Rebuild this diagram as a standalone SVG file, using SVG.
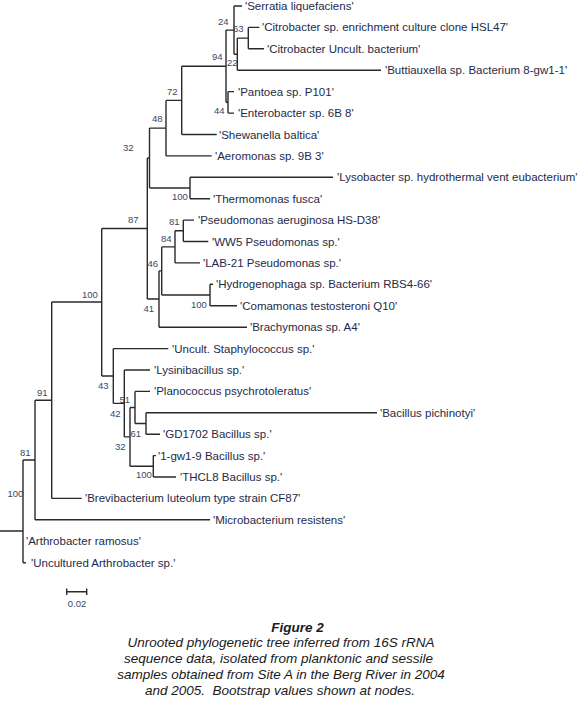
<svg xmlns="http://www.w3.org/2000/svg" width="580" height="705" viewBox="0 0 580 705">
<style>
.br{fill:none;stroke:#2a2a2a;stroke-width:1.4}
.lf{font-family:"Liberation Sans",Arial,sans-serif;font-size:11.5px;fill:#1e2b48}
.bs{font-family:"Liberation Sans",Arial,sans-serif;font-size:9.5px;fill:#3a4866}
.cap{font-family:"Liberation Sans",Arial,sans-serif;font-size:13.5px;font-style:italic;fill:#1a1a1a;text-anchor:middle}
</style>
<rect width="580" height="705" fill="#fff"/>
<g id="connectors" class="br">
<path d="M0 531H23M23 460V562.7M23 562.7H26M23 460H35M35 400.2V519.8M35 519.8H210M35 400.2H51.7M51.7 302V498.4M51.7 498.4H81.7M51.7 302H101.7M101.7 228.5V376"/>
<path d="M101.7 228.5H147.3M147.3 158V299M147.3 158H149.5M149.5 128.1V188M149.5 128.1H166M166 100.4V155.9M166 155.9H211.7M166 100.4H181.7M181.7 66.2V134.5M181.7 134.5H216.7M181.7 66.2H226M226 30.1V102.3M226 102.3H228M228 91.6V113.1M228 91.6H234M228 113.1H234M226 30.1H234M234 6V54.2M234 6H242M234 54.2H237.3M237.3 38.1V70.2M237.3 70.2H381M237.3 38.1H248.3M248.3 27.4V48.8M248.3 27.4H259.3M248.3 48.8H264"/>
<path d="M149.5 188H190M190 177.3V198.7M190 177.3H333M190 198.7H210"/>
<path d="M147.3 299H159M159 270.9V327.2M159 327.2H247M159 270.9H161.7M161.7 246.9V295M161.7 246.9H175M175 230.8V262.9M175 262.9H200M175 230.8H183.3M183.3 220.1V241.5M183.3 220.1H194M183.3 241.5H208.3M161.7 295H210M210 284.3V305.7M210 284.3H213M210 305.7H237"/>
<path d="M101.7 376H113.3M113.3 348.6V403.4M113.3 348.6H168.3M113.3 403.4H124.3M124.3 370V436.9M124.3 370H150M124.3 436.9H130M130 407.5V466.3M130 407.5H135M135 391.4V423.5M135 391.4H150M135 423.5H146M146 412.8V434.2M146 412.8H377M146 434.2H160M130 466.3H153.3M153.3 455.6V477M153.3 455.6H156M153.3 477H176"/>
<path d="M66.7 591.7H86.7M66.7 588.5V595M86.7 588.5V595"/>
</g>
<g id="leaf-serratia"><text class="lf" x="245" y="10">'Serratia liquefaciens'</text></g>
<g id="leaf-citrobacter-enrich"><text class="lf" x="262" y="31.4">'Citrobacter sp. enrichment culture clone HSL47'</text></g>
<g id="leaf-citrobacter-uncult"><text class="lf" x="267" y="52.8">'Citrobacter Uncult. bacterium'</text></g>
<g id="leaf-buttiauxella"><text class="lf" x="385" y="74.2">'Buttiauxella sp. Bacterium 8-gw1-1'</text></g>
<g id="leaf-pantoea"><text class="lf" x="238" y="95.6">'Pantoea sp. P101'</text></g>
<g id="leaf-enterobacter"><text class="lf" x="238" y="117.1">'Enterobacter sp. 6B 8'</text></g>
<g id="leaf-shewanella"><text class="lf" x="219" y="138.5">'Shewanella baltica'</text></g>
<g id="leaf-aeromonas"><text class="lf" x="215" y="159.9">'Aeromonas sp. 9B 3'</text></g>
<g id="leaf-lysobacter"><text class="lf" x="337" y="181.3">'Lysobacter sp. hydrothermal vent eubacterium'</text></g>
<g id="leaf-thermomonas"><text class="lf" x="213" y="202.7">'Thermomonas fusca'</text></g>
<g id="leaf-pseudomonas-aer"><text class="lf" x="198" y="224.1">'Pseudomonas aeruginosa HS-D38'</text></g>
<g id="leaf-ww5"><text class="lf" x="212" y="245.5">'WW5 Pseudomonas sp.'</text></g>
<g id="leaf-lab21"><text class="lf" x="203" y="266.9">'LAB-21 Pseudomonas sp.'</text></g>
<g id="leaf-hydrogenophaga"><text class="lf" x="216" y="288.3">'Hydrogenophaga sp. Bacterium RBS4-66'</text></g>
<g id="leaf-comamonas"><text class="lf" x="240" y="309.7">'Comamonas testosteroni Q10'</text></g>
<g id="leaf-brachymonas"><text class="lf" x="250" y="331.2">'Brachymonas sp. A4'</text></g>
<g id="leaf-staphylococcus"><text class="lf" x="172" y="352.6">'Uncult. Staphylococcus sp.'</text></g>
<g id="leaf-lysinibacillus"><text class="lf" x="154" y="374">'Lysinibacillus sp.'</text></g>
<g id="leaf-planococcus"><text class="lf" x="154" y="395.4">'Planococcus psychrotoleratus'</text></g>
<g id="leaf-pichinotyi"><text class="lf" x="380" y="416.8">'Bacillus pichinotyi'</text></g>
<g id="leaf-gd1702"><text class="lf" x="163" y="438.2">'GD1702 Bacillus sp.'</text></g>
<g id="leaf-1gw19"><text class="lf" x="158" y="459.6">'1-gw1-9 Bacillus sp.'</text></g>
<g id="leaf-thcl8"><text class="lf" x="180" y="481">'THCL8 Bacillus sp.'</text></g>
<g id="leaf-brevibacterium"><text class="lf" x="85" y="502.4">'Brevibacterium luteolum type strain CF87'</text></g>
<g id="leaf-microbacterium"><text class="lf" x="213" y="523.8">'Microbacterium resistens'</text></g>
<g id="leaf-arthrobacter-ramosus"><text class="lf" x="26" y="545.3">'Arthrobacter ramosus'</text></g>
<g id="leaf-arthrobacter-uncult"><text class="lf" x="31" y="566.7">'Uncultured Arthrobacter sp.'</text></g>
<g id="bootstrap">
<text class="bs" x="218" y="25">24</text>
<text class="bs" x="233" y="32">63</text>
<text class="bs" x="212" y="60">94</text>
<text class="bs" x="227" y="66">22</text>
<text class="bs" x="214" y="114">44</text>
<text class="bs" x="167" y="95">72</text>
<text class="bs" x="152" y="122">48</text>
<text class="bs" x="123" y="151">32</text>
<text class="bs" x="128" y="223">87</text>
<text class="bs" x="172" y="200">100</text>
<text class="bs" x="169" y="225">81</text>
<text class="bs" x="161" y="241.5">84</text>
<text class="bs" x="147.5" y="266.5">46</text>
<text class="bs" x="143.5" y="311.5">41</text>
<text class="bs" x="191" y="308">100</text>
<text class="bs" x="82" y="298">100</text>
<text class="bs" x="98" y="389">43</text>
<text class="bs" x="110" y="416.5">42</text>
<text class="bs" x="119.5" y="403">51</text>
<text class="bs" x="130.5" y="436.5">61</text>
<text class="bs" x="115" y="450">32</text>
<text class="bs" x="136" y="478">100</text>
<text class="bs" x="37" y="396">91</text>
<text class="bs" x="20" y="456">81</text>
<text class="bs" x="7.5" y="497">100</text>
</g>
<g id="scale"><text class="bs" x="77" y="606.5" text-anchor="middle">0.02</text></g>
<g id="caption">
<text class="cap" x="297.5" y="631.5" font-weight="bold">Figure 2</text>
<text class="cap" x="281" y="647">Unrooted phylogenetic tree inferred from 16S rRNA</text>
<text class="cap" x="278.5" y="663.3">sequence data, isolated from planktonic and sessile</text>
<text class="cap" x="281" y="679.3">samples obtained from Site A in the Berg River in 2004</text>
<text class="cap" x="280" y="695.3" xml:space="preserve">and 2005.  Bootstrap values shown at nodes.</text>
</g>
</svg>
